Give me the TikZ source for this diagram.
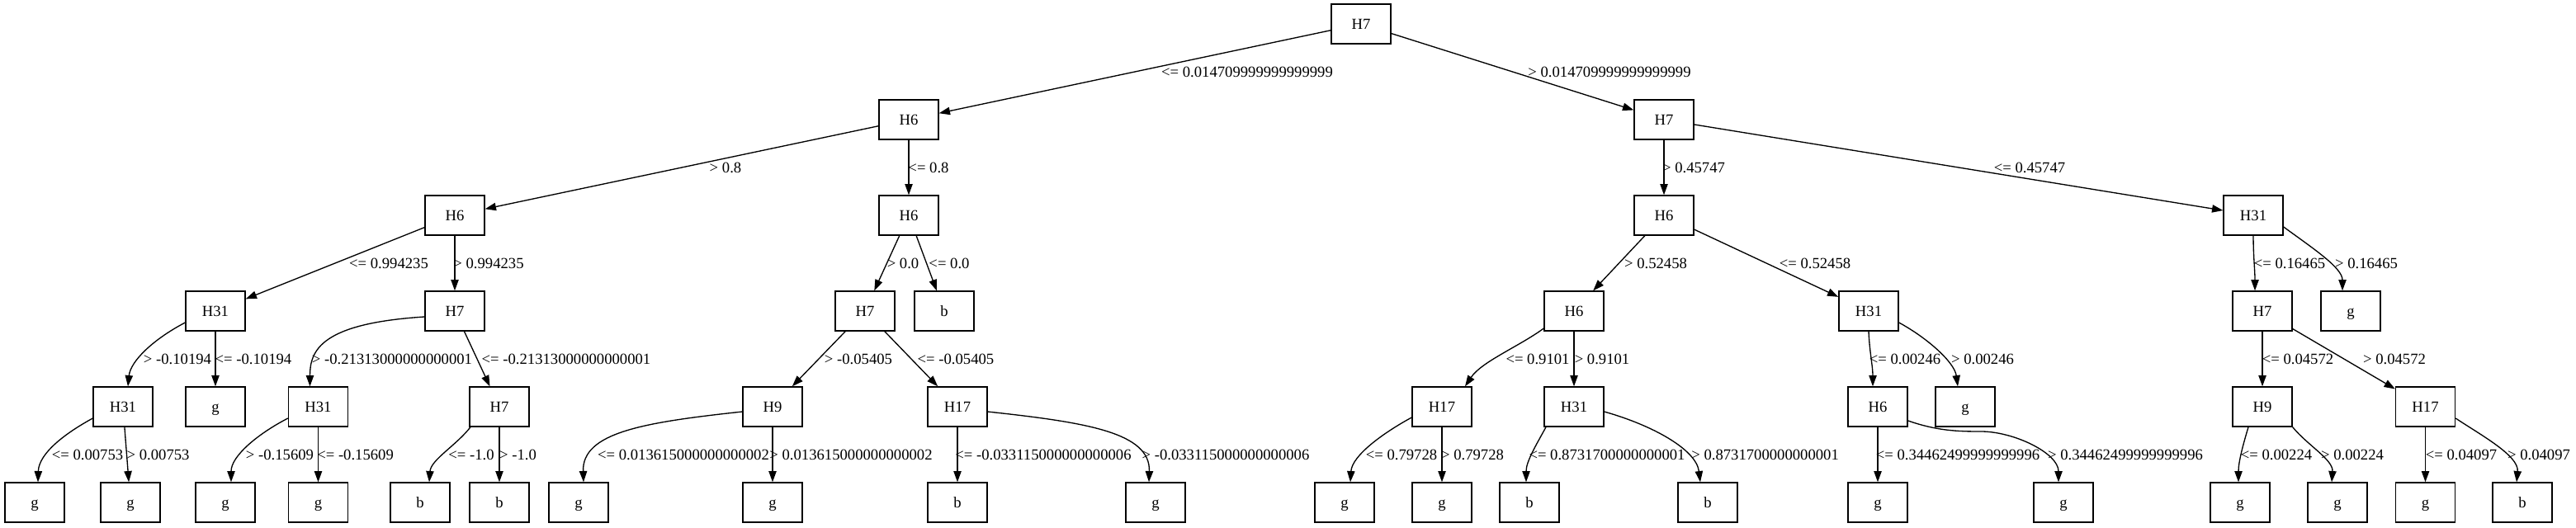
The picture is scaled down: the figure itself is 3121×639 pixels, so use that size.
\documentclass[tikz,border=0pt]{standalone}
\usepackage{fontspec}
\setmainfont{Liberation Serif}
\usetikzlibrary{arrows.meta,calc}
\begin{document}
\begin{tikzpicture}[x=0.75pt,y=-0.75pt,
  box/.style={draw,line width=1pt,minimum width=54pt,minimum height=36pt,inner sep=0pt,text height=9.3pt,text depth=0pt,font=\fontsize{14}{16}\selectfont},
  lab/.style={inner sep=0pt,text height=9.3pt,text depth=0pt,font=\fontsize{14}{16}\selectfont},
  edge/.style={line width=1pt,-{Triangle[length=10pt,width=7pt]}}]
\useasboundingbox (0,0) rectangle (3121,639);
% level 0
\node[box] (n0) at (1649,29) {H7};
% level 1
\node[box] (n1) at (1101,145) {H6};
\node[box] (n2) at (2016,145) {H7};
% level 2
\node[box] (n3) at (551,261) {H6};
\node[box] (n4) at (1101,261) {H6};
\node[box] (n5) at (2016,261) {H6};
\node[box] (n6) at (2730,261) {H31};
% level 3
\node[box] (n7) at (261,377) {H31};
\node[box] (n8) at (551,377) {H7};
\node[box] (n9) at (1048,377) {H7};
\node[box] (n10) at (1144,377) {b};
\node[box] (n11) at (1907,377) {H6};
\node[box] (n12) at (2264,377) {H31};
\node[box] (n13) at (2741,377) {H7};
\node[box] (n14) at (2848,377) {g};
% level 4
\node[box] (n15) at (149,493) {H31};
\node[box] (n16) at (261,493) {g};
\node[box] (n17) at (385.5,493) {H31};
\node[box] (n18) at (605,493) {H7};
\node[box] (n19) at (936,493) {H9};
\node[box] (n20) at (1160,493) {H17};
\node[box] (n21) at (1747,493) {H17};
\node[box] (n22) at (1907,493) {H31};
\node[box] (n23) at (2275,493) {H6};
\node[box] (n24) at (2381,493) {g};
\node[box] (n25) at (2741,493) {H9};
\node[box] (n26) at (2938.5,493) {H17};
% level 5
\node[box] (n27) at (42,609) {g};
\node[box] (n28) at (158,609) {g};
\node[box] (n29) at (273,609) {g};
\node[box] (n30) at (385.5,609) {g};
\node[box] (n31) at (509,609) {b};
\node[box] (n32) at (605,609) {b};
\node[box] (n33) at (701,609) {g};
\node[box] (n34) at (936,609) {g};
\node[box] (n35) at (1160,609) {b};
\node[box] (n36) at (1400,609) {g};
\node[box] (n37) at (1629,609) {g};
\node[box] (n38) at (1747,609) {g};
\node[box] (n39) at (1853,609) {b};
\node[box] (n40) at (2069,609) {b};
\node[box] (n41) at (2275,609) {g};
\node[box] (n42) at (2500,609) {g};
\node[box] (n43) at (2714,609) {g};
\node[box] (n44) at (2832,609) {g};
\node[box] (n45) at (2938.5,609) {g};
\node[box] (n46) at (3056,609) {b};
% straight edges
\foreach \a/\b in {n0/n1,n0/n2,n1/n3,n1/n4,n2/n5,n2/n6,n3/n7,n3/n8,n4/n9,n4/n10,n5/n11,n5/n12,n7/n16,n8/n18,n9/n19,n9/n20,n11/n22,n13/n25,n13/n26,n15/n28,n17/n30,n18/n32,n19/n34,n20/n35,n21/n38,n23/n41,n26/n45}
  \draw[edge] (\a) -- (\b);
% curved edges
\draw[edge] (n6.south) .. controls +(0,25) and +(0,-25) .. ($(n13.north)+(-9,0)$);
\draw[edge] ($(n6.east)+(0,14)$) .. controls +(34,25) and +(0,-28) .. ($(n14.north)+(-10,0)$);
\draw[edge] ($(n7.west)+(0,14)$) .. controls +(-40,21) and +(3,-30) .. ($(n15.north)+(6,0)$);
\draw[edge] ($(n8.west)+(0,7)$) .. controls +(-125,8) and +(0,-44) .. ($(n17.north)+(-10,0)$);
\draw[edge] ($(n11.west)+(0,21)$) .. controls +(-30,22) and +(20,-30) .. ($(n21.north)+(28,0)$);
\draw[edge] (n12.south) .. controls +(1,25) and +(0,-25) .. ($(n23.north)+(-6,0)$);
\draw[edge] ($(n12.east)+(0,14)$) .. controls +(35,19) and +(-4,-29) .. ($(n24.north)+(-9,0)$);
\draw[edge] ($(n15.west)+(0,14)$) .. controls +(-33,18) and +(1,-35) .. ($(n27.north)+(4,0)$);
\draw[edge] ($(n17.west)+(0,14)$) .. controls +(-35,18) and +(0,-32) .. ($(n29.north)+(7,0)$);
\draw[edge] ($(n18.south)+(-35,0)$) .. controls +(-17,22) and +(2,-27) .. ($(n31.north)+(11,0)$);
\draw[edge] ($(n19.west)+(0,6)$) .. controls +(-120,13) and +(-2,-60) .. ($(n33.north)+(6,0)$);
\draw[edge] ($(n20.east)+(0,6)$) .. controls +(120,13) and +(2,-60) .. ($(n36.north)+(-8,0)$);
\draw[edge] ($(n21.west)+(0,13)$) .. controls +(-35,19) and +(2,-32) .. ($(n37.north)+(7,0)$);
\draw[edge] ($(n22.south)+(-34,0)$) .. controls +(-12,22) and +(0,-25) .. ($(n39.north)+(-4,0)$);
\draw[edge] ($(n22.east)+(0,6)$) .. controls +(57,16) and +(-5,-40) .. ($(n40.north)+(-9,0)$);
\coordinate (w42) at (2400,523);
\draw[edge] ($(n23.east)+(0,17)$) .. controls +(35,12) and +(-30,0) .. (w42) .. controls +(40,0) and +(0,-35) .. ($(n42.north)+(-6,0)$);
\draw[edge] ($(n25.south)+(-17,0)$) .. controls +(-6,20) and +(0,-25) .. ($(n43.north)+(-2,0)$);
\draw[edge] (n25.south east) .. controls +(18,22) and +(2,-27) .. ($(n44.north)+(-7,0)$);
\draw[edge] ($(n26.east)+(0,14)$) .. controls +(30,20) and +(3,-32) .. ($(n46.north)+(-7,0)$);
% labels
\node[lab] (l1) at (1511,87) {<= 0.014709999999999999};
\node[lab] (l2) at (1950,87) {> 0.014709999999999999};
\node[lab] (l3) at (879,203) {> 0.8};
\node[lab] (l4) at (1125,203) {<= 0.8};
\node[lab] (l5) at (2052,203) {> 0.45747};
\node[lab] (l6) at (2459,203) {<= 0.45747};
\node[lab] (l7) at (471,319) {<= 0.994235};
\node[lab] (l8) at (592,319) {> 0.994235};
\node[lab] (l9) at (1094,319) {> 0.0};
\node[lab] (l10) at (1150,319) {<= 0.0};
\node[lab] (l11) at (2006,319) {> 0.52458};
\node[lab] (l12) at (2199,319) {<= 0.52458};
\node[lab] (l13) at (2774,319) {<= 0.16465};
\node[lab] (l14) at (2867,319) {> 0.16465};
\node[lab] (l15) at (215,435) {> -0.10194};
\node[lab] (l16) at (307,435) {<= -0.10194};
\node[lab] (l17) at (475,435) {> -0.21313000000000001};
\node[lab] (l18) at (686,435) {<= -0.21313000000000001};
\node[lab] (l19) at (1040,435) {> -0.05405};
\node[lab] (l20) at (1158,435) {<= -0.05405};
\node[lab] (l21) at (1863,435) {<= 0.9101};
\node[lab] (l22) at (1941,435) {> 0.9101};
\node[lab] (l23) at (2308,435) {<= 0.00246};
\node[lab] (l24) at (2402,435) {> 0.00246};
\node[lab] (l25) at (2784,435) {<= 0.04572};
\node[lab] (l26) at (2901,435) {> 0.04572};
\node[lab] (l27) at (106,551) {<= 0.00753};
\node[lab] (l28) at (191.6,551) {> 0.00753};
\node[lab] (l29) at (339,551) {> -0.15609};
\node[lab] (l30) at (430.6,551) {<= -0.15609};
\node[lab] (l31) at (571,551) {<= -1.0};
\node[lab] (l32) at (627.5,551) {> -1.0};
\node[lab] (l33) at (828,551) {<= 0.013615000000000002};
\node[lab] (l34) at (1031,551) {> 0.013615000000000002};
\node[lab] (l35) at (1264,551) {<= -0.033115000000000006};
\node[lab] (l36) at (1485,551) {> -0.033115000000000006};
\node[lab] (l37) at (1698,551) {<= 0.79728};
\node[lab] (l38) at (1784,551) {> 0.79728};
\node[lab] (l39) at (1947,551) {<= 0.8731700000000001};
\node[lab] (l40) at (2138.6,551) {> 0.8731700000000001};
\node[lab] (l41) at (2372,551) {<= 0.34462499999999996};
\node[lab] (l42) at (2575,551) {> 0.34462499999999996};
\node[lab] (l43) at (2758,551) {<= 0.00224};
\node[lab] (l44) at (2850,551) {> 0.00224};
\node[lab] (l45) at (2982,551) {<= 0.04097};
\node[lab] (l46) at (3076,551) {> 0.04097};
\end{tikzpicture}
\end{document}
